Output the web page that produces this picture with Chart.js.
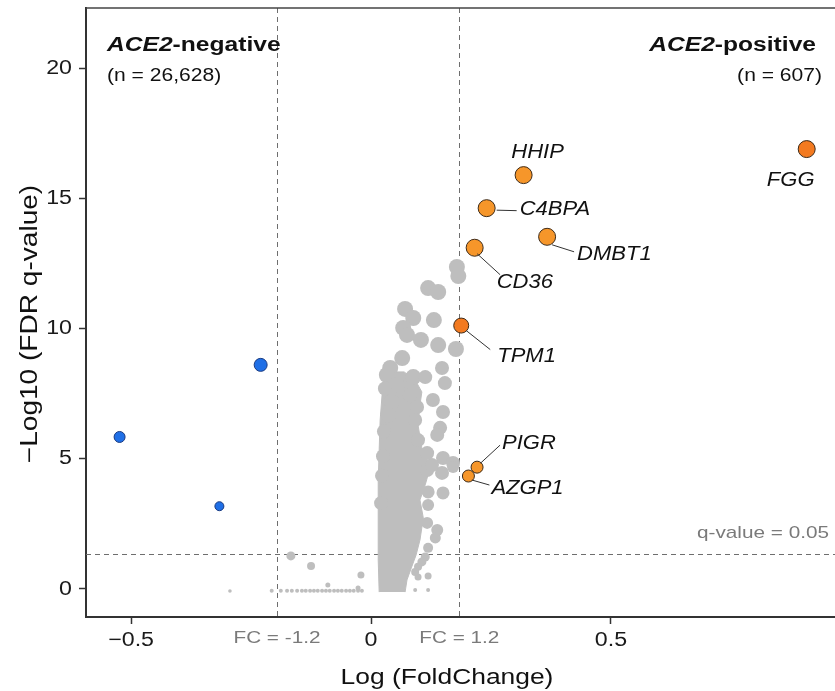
<!DOCTYPE html>
<html>
<head>
<meta charset="utf-8">
<script src="https://cdn.jsdelivr.net/npm/chart.js@4.4.1/dist/chart.umd.min.js"></script>
<style>
  html, body { margin: 0; padding: 0; background: #fff; }
  canvas { display: block; }
</style>
</head>
<body>
<canvas id="volcano" width="835" height="691"></canvas>
<script>
// axis ticks
var xTicks = [-0.5, 0, 0.5];
var xTickLabels = ['\u22120.5', '0', '0.5'];
var yTicks = [0, 5, 10, 15, 20];
var yTickLabels = ['0', '5', '10', '15', '20'];

// cut-offs (log fold change and -log10 q)
var fcCutoffs = [-0.196, 0.184];
var fcCutoffLabels = ['FC = -1.2', 'FC = 1.2'];
var qCutoff = 1.35;
var qCutoffLabel = 'q-value = 0.05';

// significant up-regulated genes
var geneNames = ['FGG', 'HHIP', 'C4BPA', 'DMBT1', 'CD36', 'TPM1', 'PIGR', 'AZGP1'];
var geneLogFC = [0.908, 0.318, 0.241, 0.367, 0.216, 0.188, 0.221, 0.203];
var geneLogQ = [16.90, 15.90, 14.63, 13.53, 13.11, 10.12, 4.68, 4.34];
var geneSize = [8.5, 8.5, 8.5, 8.5, 8.5, 7.5, 6, 6];
var deepGenes = ['FGG', 'TPM1'];

// significant down-regulated genes
var downLogFC = [-0.524, -0.230, -0.316];
var downLogQ = [5.84, 8.61, 3.18];
var downSize = [5.5, 6.5, 4.5];

// non-significant genes around the main cloud
var bgLogFC = [
  0.179, 0.182, 0.119, 0.140, 0.071, 0.088, 0.131, 0.067, 0.075, 0.104, 0.140, 0.177,
  0.065, 0.040, 0.033, 0.088, 0.113, 0.148, 0.154, 0.054, 0.129, 0.150, 0.096, 0.144,
  0.138, 0.044, 0.036, 0.150, 0.171, 0.117, 0.148, 0.171, 0.127, 0.150, 0.119, 0.119,
  0.138, 0.134, 0.117, 0.119, 0.113, 0.106, 0.098, 0.092, 0.098, 0.119, 0.092, 0.119,
  0.117, 0.098, 0.092, 0.081,
  0.029, 0.027, 0.025, 0.023, 0.021,
  -0.167, -0.125, -0.090, -0.021, -0.027, -0.294,
  -0.207, -0.188, -0.175, -0.165, -0.154, -0.144, -0.136, -0.127, -0.119, -0.111, -0.102,
  -0.094, -0.086, -0.077, -0.069, -0.061, -0.052, -0.044, -0.036, -0.027, -0.019
];
var bgLogQ = [
  12.37, 12.02, 11.56, 11.41, 10.76, 10.41, 10.33, 10.03, 9.76, 9.57, 9.37, 9.22,
  8.87, 8.49, 8.22, 8.14, 8.14, 8.49, 7.91, 7.84, 7.26, 6.80, 6.99, 6.19,
  5.92, 7.18, 6.68, 5.03, 4.84, 4.57, 4.46, 4.69, 4.76, 3.69, 3.73, 3.23,
  2.27, 1.96, 2.54, 1.58, 1.23, 1.04, 0.85, 0.65, 0.46, 0.50, -0.04, -0.04,
  5.22, 5.72, 6.49, 7.45,
  7.70, 6.05, 5.10, 4.35, 3.30,
  1.27, 0.88, 0.15, 0.54, 0.04, -0.08,
  -0.07, -0.07, -0.07, -0.07, -0.07, -0.07, -0.07, -0.07, -0.07, -0.07, -0.07,
  -0.07, -0.07, -0.07, -0.07, -0.07, -0.07, -0.07, -0.07, -0.07, -0.07
];
var bgSize = [
  8, 8, 8, 8, 8, 8, 8, 8, 8, 8, 8, 8,
  8, 8, 8, 8, 7, 7, 7, 8, 7, 7, 7, 7,
  7, 8, 8, 7, 7, 7, 7, 6, 7, 6.5, 6.5, 6,
  6, 5.5, 6, 5, 4.5, 4.5, 4, 4, 3.5, 3.5, 2, 2,
  7, 7, 7, 7,
  7, 7, 7, 7, 7,
  4.5, 4, 2.5, 3.5, 2.5, 1.8,
  2, 2, 2, 2, 2, 2, 2, 2, 2, 2, 2,
  2, 2, 2, 2, 2, 2, 2, 2, 2, 2
];

// outline of the dense body of the cloud
var coreLogFC = [0.017, 0.015, 0.015, 0.015, 0.017, 0.019, 0.023, 0.029, 0.046, 0.069, 0.092, 0.106,
  0.102, 0.098, 0.106, 0.123, 0.113, 0.102, 0.109, 0.102, 0.094, 0.084, 0.075, 0.071];
var coreLogQ = [-0.12, 1.11, 2.65, 4.19, 5.34, 6.49, 7.45, 8.03, 8.34, 8.34, 8.03, 7.57,
  7.07, 6.30, 5.42, 4.65, 4.00, 3.42, 2.73, 1.88, 1.31, 0.81, 0.35, -0.12];

// gene label placement, pixels from the point
var labelPos = {
  FGG:   { dx: -16, dy: 31, align: 'center' },
  HHIP:  { dx: 14, dy: -23, align: 'center' },
  C4BPA: { dx: 33, dy: 1.5, align: 'left', lead: [10, 2, 30, 2.5] },
  DMBT1: { dx: 30, dy: 18, align: 'left', lead: [5, 8, 27, 15] },
  CD36:  { dx: 22, dy: 35, align: 'left', lead: [2.5, 6, 25.5, 27] },
  TPM1:  { dx: 36, dy: 31, align: 'left', lead: [5, 5, 29, 24] },
  PIGR:  { dx: 25, dy: -24, align: 'left', lead: [3.5, -4, 23, -22] },
  AZGP1: { dx: 23, dy: 12, align: 'left', lead: [3.5, 4, 21, 9] }
};

var FONT = "'Liberation Sans', Arial, Helvetica, sans-serif";
var GREY = '#BEBEBE';

function toPoints(xs, ys, rs) {
  return xs.map(function (x, i) { return { x: x, y: ys[i], r: rs ? rs[i] : 0 }; });
}

// text with a horizontal stretch along the reading direction
function stretchText(ctx, str, x, y, o) {
  ctx.save();
  ctx.font = o.font;
  ctx.fillStyle = o.color || '#111';
  ctx.textBaseline = o.baseline || 'alphabetic';
  ctx.translate(x, y);
  if (o.rotate) ctx.rotate(o.rotate);
  ctx.scale(o.sx || 1, 1);
  ctx.textAlign = o.align || 'left';
  ctx.fillText(str, 0, 0);
  ctx.restore();
}

function textWidth(ctx, str, font, sx) {
  ctx.save();
  ctx.font = font;
  var w = ctx.measureText(str).width * (sx || 1);
  ctx.restore();
  return w;
}

// "ACE2-negative" style heading: italic gene name + bold suffix
function heading(ctx, gene, rest, x, y, align) {
  var f1 = 'italic bold 20px ' + FONT, f2 = 'bold 20px ' + FONT, sx = 1.23;
  var w1 = textWidth(ctx, gene, f1, sx), w2 = textWidth(ctx, rest, f2, sx);
  var left = align === 'right' ? x - w1 - w2 : x;
  stretchText(ctx, gene, left, y, { font: f1, sx: sx });
  stretchText(ctx, rest, left + w1, y, { font: f2, sx: sx });
}

var refLines = {
  id: 'refLines',
  beforeDatasetsDraw: function (chart) {
    var ctx = chart.ctx, a = chart.chartArea, xs = chart.scales.x, ys = chart.scales.y;
    ctx.save();
    ctx.strokeStyle = '#6e6e6e';
    ctx.lineWidth = 1;
    ctx.setLineDash([5, 4]);
    fcCutoffs.forEach(function (v) {
      var px = Math.round(xs.getPixelForValue(v)) + 0.5;
      ctx.beginPath(); ctx.moveTo(px, a.top); ctx.lineTo(px, a.bottom); ctx.stroke();
    });
    var py = Math.round(ys.getPixelForValue(qCutoff)) + 0.5;
    ctx.beginPath(); ctx.moveTo(a.left, py); ctx.lineTo(a.right, py); ctx.stroke();
    ctx.setLineDash([]);
    // panel top edge
    ctx.strokeStyle = '#444';
    ctx.lineWidth = 1.5;
    ctx.beginPath(); ctx.moveTo(a.left, a.top); ctx.lineTo(a.right, a.top); ctx.stroke();
    ctx.restore();
  }
};

var annotations = {
  id: 'annotations',
  afterDraw: function (chart) {
    var ctx = chart.ctx, xs = chart.scales.x, ys = chart.scales.y;
    var tickFont = '20px ' + FONT, smallFont = '17px ' + FONT;

    xTicks.forEach(function (v, i) {
      stretchText(ctx, xTickLabels[i], xs.getPixelForValue(v), 640,
        { font: tickFont, sx: 1.16, align: 'center', baseline: 'middle', color: '#1a1a1a' });
    });
    yTicks.forEach(function (v, i) {
      stretchText(ctx, yTickLabels[i], 72, ys.getPixelForValue(v),
        { font: tickFont, sx: 1.16, align: 'right', baseline: 'middle', color: '#1a1a1a' });
    });

    fcCutoffs.forEach(function (v, i) {
      stretchText(ctx, fcCutoffLabels[i], xs.getPixelForValue(v), 638,
        { font: smallFont, sx: 1.22, align: 'center', baseline: 'middle', color: '#7a7a7a' });
    });
    stretchText(ctx, qCutoffLabel, 829, ys.getPixelForValue(qCutoff) - 16,
      { font: smallFont, sx: 1.22, align: 'right', color: '#7a7a7a' });

    // axis titles
    stretchText(ctx, 'Log (FoldChange)', 447, 684, { font: '22px ' + FONT, sx: 1.2, align: 'center' });
    stretchText(ctx, '\u2212Log10 (FDR q-value)', 37, 324,
      { font: '23px ' + FONT, sx: 1.22, align: 'center', rotate: -Math.PI / 2 });

    // group headings
    heading(ctx, 'ACE2', '-negative', 107, 51, 'left');
    stretchText(ctx, '(n = 26,628)', 107, 81, { font: '18px ' + FONT, sx: 1.17 });
    heading(ctx, 'ACE2', '-positive', 816, 51, 'right');
    stretchText(ctx, '(n = 607)', 822, 81, { font: '18px ' + FONT, sx: 1.17, align: 'right' });

    // gene labels and leader lines
    ctx.save();
    ctx.strokeStyle = '#333';
    ctx.lineWidth = 1;
    geneNames.forEach(function (g, i) {
      var p = labelPos[g];
      var px = xs.getPixelForValue(geneLogFC[i]), py = ys.getPixelForValue(geneLogQ[i]);
      if (p.lead) {
        ctx.beginPath();
        ctx.moveTo(px + p.lead[0], py + p.lead[1]);
        ctx.lineTo(px + p.lead[2], py + p.lead[3]);
        ctx.stroke();
      }
      stretchText(ctx, g, px + p.dx, py + p.dy,
        { font: 'italic 20px ' + FONT, sx: 1.1, align: p.align, baseline: 'middle', color: '#111' });
    });
    ctx.restore();
  }
};

var deepPts = [], lightPts = [];
geneNames.forEach(function (g, i) {
  var pt = { x: geneLogFC[i], y: geneLogQ[i], r: geneSize[i] };
  if (deepGenes.indexOf(g) >= 0) deepPts.push(pt); else lightPts.push(pt);
});

var ctx = document.getElementById('volcano').getContext('2d');
var chart = new Chart(ctx, {
  type: 'bubble',
  data: {
    datasets: [
      { label: 'up (strong)', data: deepPts, backgroundColor: '#F37A20', borderColor: '#3d2a18', borderWidth: 1 },
      { label: 'up', data: lightPts, backgroundColor: '#F6962A', borderColor: '#3d2a18', borderWidth: 1 },
      { label: 'down', data: toPoints(downLogFC, downLogQ, downSize), backgroundColor: '#1F6FE6', borderColor: '#1a3a80', borderWidth: 1 },
      { label: 'ns', data: toPoints(bgLogFC, bgLogQ, bgSize), backgroundColor: GREY, borderWidth: 0 },
      {
        type: 'line', label: 'ns body',
        data: toPoints(coreLogFC, coreLogQ),
        backgroundColor: GREY, borderColor: GREY, borderWidth: 1,
        pointRadius: 0, fill: 'shape', tension: 0
      }
    ]
  },
  options: {
    responsive: false,
    animation: false,
    devicePixelRatio: 1,
    layout: { autoPadding: false, padding: { top: 8, left: 0, right: 0, bottom: 0 } },
    plugins: { legend: { display: false }, tooltip: { enabled: false } },
    scales: {
      x: {
        type: 'linear', min: -0.594, max: 0.967,
        afterBuildTicks: function (s) { s.ticks = xTicks.map(function (v) { return { value: v }; }); },
        afterFit: function (s) { s.height = 74; s.paddingLeft = 0; s.paddingRight = 0; },
        ticks: { color: 'rgba(0,0,0,0)', font: { size: 20 } },
        grid: { drawOnChartArea: false, drawTicks: true, tickLength: 7, tickColor: '#333', tickWidth: 1.5 },
        border: { color: '#333', width: 2 }
      },
      y: {
        type: 'linear', min: -1.076, max: 22.32,
        afterBuildTicks: function (s) { s.ticks = yTicks.map(function (v) { return { value: v }; }); },
        afterFit: function (s) { s.width = 86; s.paddingTop = 0; s.paddingBottom = 0; },
        ticks: { color: 'rgba(0,0,0,0)', font: { size: 20 } },
        grid: { drawOnChartArea: false, drawTicks: true, tickLength: 7, tickColor: '#333', tickWidth: 1.5 },
        border: { color: '#333', width: 2 }
      }
    }
  },
  plugins: [refLines, annotations]
});
</script>
</body>
</html>
